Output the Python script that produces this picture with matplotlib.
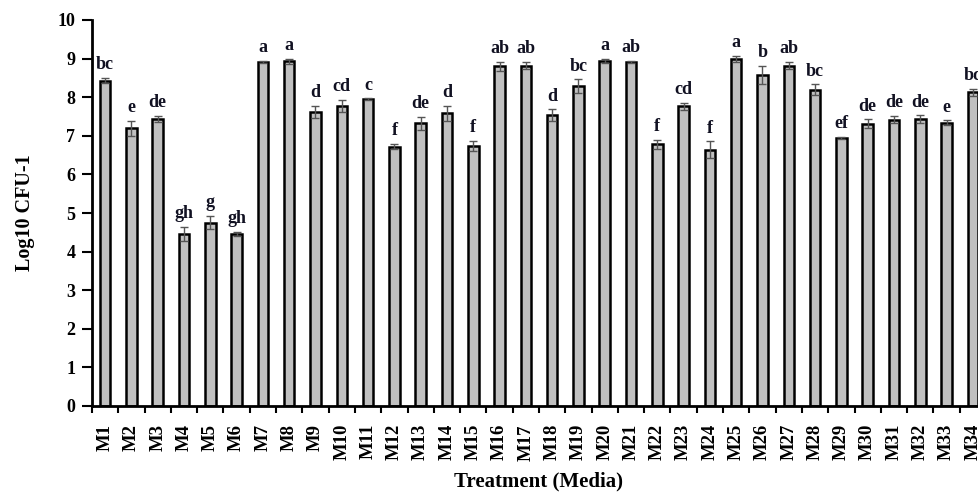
import numpy as np
import matplotlib
matplotlib.use("Agg")
import matplotlib.pyplot as plt

# medias M1..M34, mean log10 CFU, error, significance letters
media = [f"M{i}" for i in range(1, 35)]
cfu = [8.43, 7.19, 7.43, 4.46, 4.75, 4.46, 8.91, 8.93, 7.61, 7.77,
       7.95, 6.72, 7.32, 7.58, 6.74, 8.80, 8.82, 7.54, 8.29, 8.94,
       8.92, 6.78, 7.77, 6.64, 8.99, 8.58, 8.82, 8.19, 6.95, 7.31,
       7.42, 7.43, 7.34, 8.13]
err = [0.07, 0.20, 0.08, 0.19, 0.17, 0.06, 0.03, 0.06, 0.16, 0.16,
       0.02, 0.07, 0.17, 0.20, 0.13, 0.12, 0.10, 0.15, 0.17, 0.06,
       0.03, 0.11, 0.09, 0.22, 0.09, 0.23, 0.09, 0.14, 0.02, 0.12,
       0.10, 0.10, 0.06, 0.09]
letters = ["bc", "e", "de", "gh", "g", "gh", "a", "a", "d", "cd",
           "c", "f", "de", "d", "f", "ab", "ab", "d", "bc", "a",
           "ab", "f", "cd", "f", "a", "b", "ab", "bc", "ef", "de",
           "de", "de", "e", "bc"]

plt.rcParams["font.family"] = ["Liberation Serif", "DejaVu Serif"]
plt.rcParams["font.weight"] = "bold"

fig = plt.figure(figsize=(9.79, 4.93), dpi=100)
# axes runs slightly past the right edge like the original crop
ax = fig.add_axes([92/979, 1 - 406/493, 894/979, 386/493])

x = np.arange(len(media))
ax.bar(x, cfu, width=0.4, color="#c0c0c0", edgecolor="black", linewidth=1.8,
       yerr=err, error_kw=dict(ecolor="#555555", elinewidth=1, capsize=3, capthick=1),
       zorder=2)
for xi, v, e, t in zip(x, cfu, err, letters):
    ax.text(xi, v + e + 0.12, t, ha="center", va="bottom",
            fontsize=13, fontweight="bold", color="#111122")

ax.set_xlim(-0.5, len(media) - 0.5)
ax.set_ylim(0, 10)
ax.set_yticks(range(0, 11))
ax.set_xticks(x)
ax.set_xticklabels(media, rotation=90, fontsize=13.5, fontweight="bold")
ax.set_xticks(np.arange(-0.5, len(media), 1), minor=True)
ax.tick_params(axis="x", which="major", length=0, pad=13)
ax.tick_params(axis="x", which="minor", length=5, width=1.5, direction="out")
ax.tick_params(axis="y", length=7, width=1.5, labelsize=13, pad=5)
for lab in ax.get_yticklabels():
    lab.set_fontweight("bold")

for s in ("top", "right"):
    ax.spines[s].set_visible(False)
for s in ("left", "bottom"):
    ax.spines[s].set_linewidth(2)

ax.set_ylabel("Log10 CFU-1", fontsize=14.5, fontweight="bold", labelpad=16)
ax.set_xlabel("Treatment (Media)", fontsize=15, fontweight="bold")
# x label sits at the very bottom of the picture, centred under the axis
ax.xaxis.set_label_coords(0.5, -0.17)

fig.savefig("out.png", dpi=100)
